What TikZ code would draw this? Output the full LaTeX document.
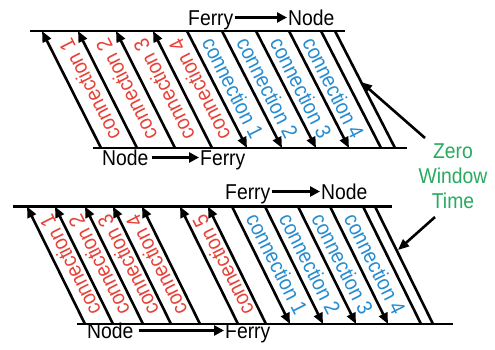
\documentclass[tikz,border=0pt]{standalone}
\usepackage{fontspec}
\setmainfont{Liberation Sans}
\usetikzlibrary{arrows.meta}
\definecolor{cred}{RGB}{232,65,55}
\definecolor{cblue}{RGB}{35,140,210}
\definecolor{cgreen}{RGB}{40,170,95}
\begin{document}
\begin{tikzpicture}[x=1pt,y=-1pt,
  every node/.style={inner sep=0pt, font=\fontsize{21.5}{25}\selectfont},
  rail/.style={line width=2.6pt},
  plain/.style={line width=2.6pt},
  arr/.style={line width=2.6pt,-{Triangle[length=11pt,width=9pt]}},
  harr/.style={line width=2.6pt,-{Triangle[length=10pt,width=10pt]}},
  redlab/.style={text=cred, rotate=116.8, xscale=0.9},
  bluelab/.style={text=cblue, rotate=-63.2, xscale=0.9},
  word/.style={anchor=base west, xscale=0.9},
]
\useasboundingbox (0,0) rectangle (495,349);
\fill[white] (0,0) rectangle (495,349);

% ---------------- top diagram ----------------
\coordinate (A1) at (30,31);  \coordinate (A2) at (345,31);
\coordinate (B1) at (93,148); \coordinate (B2) at (407,148);
\draw[rail] (A1) -- (A2);
\draw[rail] (B1) -- (B2);
\foreach \t [count=\i] in {42,78,116,153} {
  \coordinate (ur\i) at (\t,31);
  \coordinate (lr\i) at (\t+59,148);
  \draw[arr] (lr\i) -- (ur\i);
}
\foreach \t [count=\i] in {187,222,256,289} {
  \coordinate (ub\i) at (\t,31);
  \coordinate (lb\i) at (\t+60,148);
  \draw[arr] (ub\i) -- (lb\i);
}
\foreach \t [count=\i] in {321,335} {
  \coordinate (up\i) at (\t,31);
  \coordinate (lp\i) at (\t+60,148);
  \draw[plain] (up\i) -- (lp\i);
}
\node[redlab] (r1) at (89.5,89.5) {connection 1};
\node[redlab] (r2) at (126.5,89.5) {connection 2};
\node[redlab] (r3) at (164,89.5) {connection 3};
\node[redlab] (r4) at (199.5,89.5) {connection 4};
\node[bluelab] (b1) at (233,88) {connection 1};
\node[bluelab] (b2) at (267.5,88) {connection 2};
\node[bluelab] (b3) at (301,88) {connection 3};
\node[bluelab] (b4) at (333.5,88) {connection 4};

\node[word] (f1) at (188,25) {Ferry};
\node[word] (n1) at (288,25) {Node};
\draw[harr] ([xshift=1pt,yshift=7.5pt]f1.base east) -- ([xshift=-1pt,yshift=7.5pt]n1.base west);
\node[word] (n2) at (102,165) {Node};
\node[word] (f2) at (200,165) {Ferry};
\draw[harr] ([xshift=3pt,yshift=7.5pt]n2.base east) -- ([xshift=-1pt,yshift=7.5pt]f2.base west);

% ---------------- bottom diagram ----------------
\coordinate (C1) at (13,206.5);  \coordinate (C2) at (392,206.5);
\coordinate (D1) at (77,324);    \coordinate (D2) at (453,324);
\draw[rail] (C1) -- (C2);
\draw[rail] (D1) -- (D2);
\foreach \t [count=\i] in {27,55,85,113,142,180,208} {
  \coordinate (vr\i) at (\t,206.5);
  \coordinate (wr\i) at (\t+58,324);
  \draw[arr] (wr\i) -- (vr\i);
}
\foreach \t [count=\i] in {232,265,298,330} {
  \coordinate (vb\i) at (\t,206.5);
  \coordinate (wb\i) at (\t+58,324);
  \draw[arr] (vb\i) -- (wb\i);
}
\foreach \t [count=\i] in {363,375} {
  \coordinate (vp\i) at (\t,206.5);
  \coordinate (wp\i) at (\t+58,324);
  \draw[plain] (vp\i) -- (wp\i);
}
\node[redlab] (s1) at (70,265) {connection 1};
\node[redlab] (s2) at (99,265) {connection 2};
\node[redlab] (s3) at (128,265) {connection 3};
\node[redlab] (s4) at (156.5,265) {connection 4};
\node[redlab] (s5) at (223,265) {connection 5};
\node[bluelab] (c1) at (277,264) {connection 1};
\node[bluelab] (c2) at (310,264) {connection 2};
\node[bluelab] (c3) at (342.5,264) {connection 3};
\node[bluelab] (c4) at (375,264) {connection 4};

\node[word] (f3) at (225,199) {Ferry};
\node[word] (n3) at (321,199) {Node};
\draw[harr] ([xshift=1pt,yshift=7.5pt]f3.base east) -- ([xshift=-1pt,yshift=7.5pt]n3.base west);
\node[word] (n4) at (87,338) {Node};
\node[word] (f4) at (225,338) {Ferry};
\draw[harr] ([xshift=5pt,yshift=7.5pt]n4.base east) -- ([xshift=-1pt,yshift=7.5pt]f4.base west);

% ---------------- Zero Window Time ----------------
\node[text=cgreen, align=center, anchor=base, xscale=0.9] (zwt) at (453,208) {Zero\\Window\\Time};
\coordinate (z1s) at (425,138); \coordinate (z1e) at (361,82);
\coordinate (z2s) at (435,217); \coordinate (z2e) at (398,250);
\draw[arr] (z1s) -- (z1e);
\draw[arr] (z2s) -- (z2e);
\end{tikzpicture}
\end{document}
